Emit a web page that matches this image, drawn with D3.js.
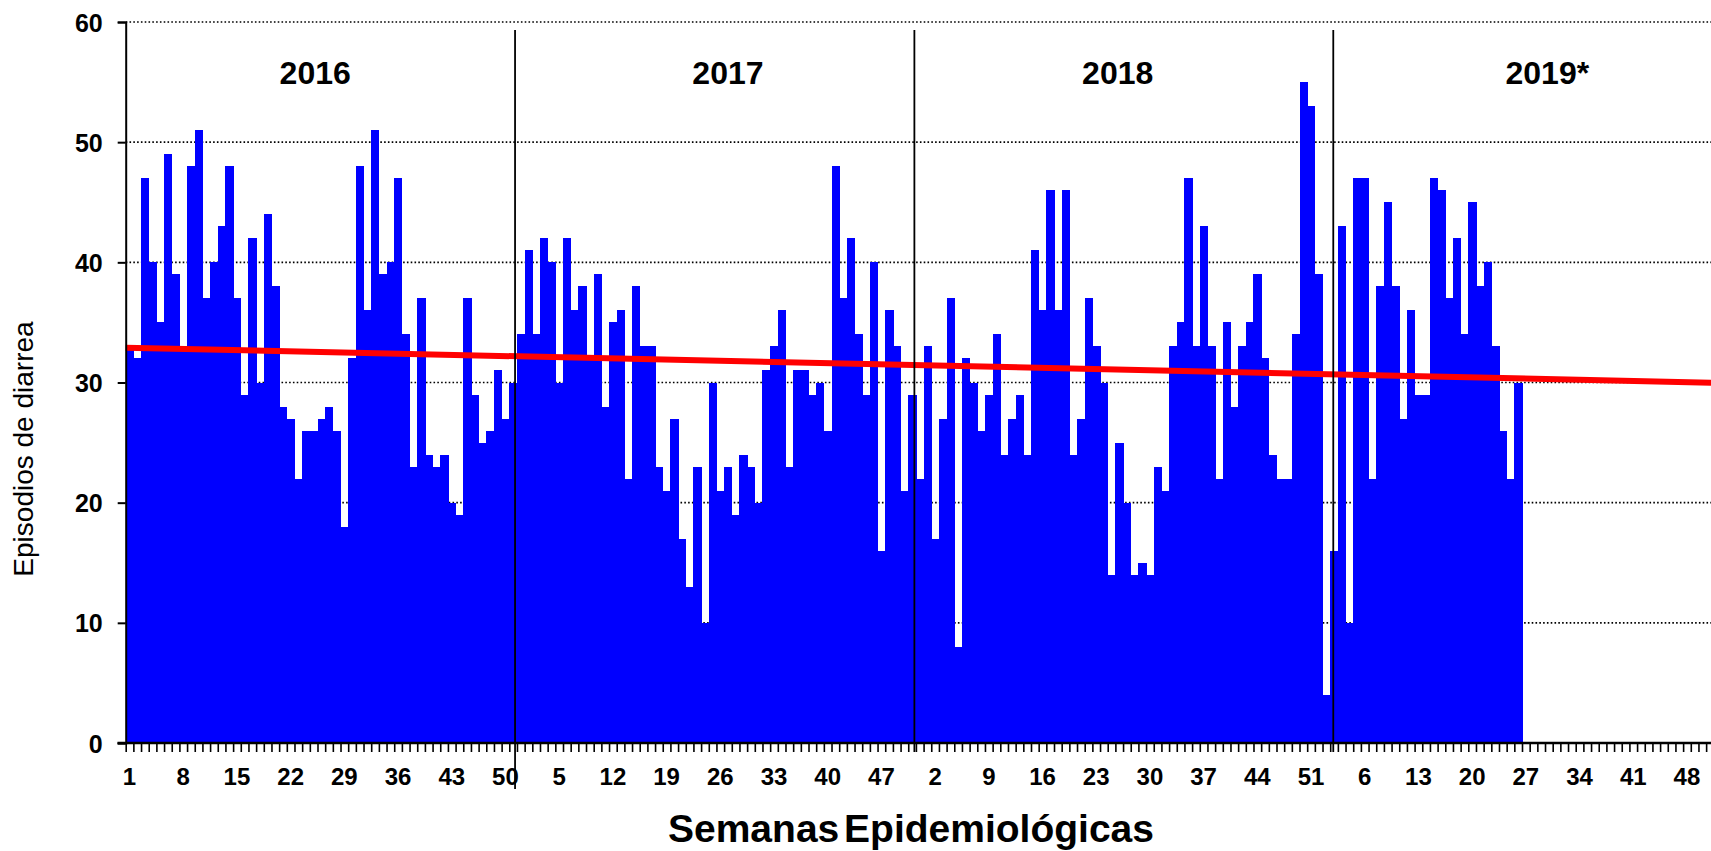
<!DOCTYPE html>
<html>
<head>
<meta charset="utf-8">
<script src="https://cdn.jsdelivr.net/npm/d3@7"></script>
<style>
  body { margin: 0; background: white; }
  svg { display: block; font-family: "Liberation Sans", Arial, sans-serif; }
</style>
</head>
<body>
<div id="chart"></div>
<script>
// weekly diarrhoea episodes
const cases2016 = [33, 32, 47, 40, 35, 49, 39, 33, 48, 51, 37, 40, 43, 48, 37, 29, 42, 30, 44, 38,
                   28, 27, 22, 26, 26, 27, 28, 26, 18, 32, 48, 36, 51, 39, 40, 47, 34, 23, 37, 24,
                   23, 24, 20, 19, 37, 29, 25, 26, 31, 27, 30, 34]
const cases2017 = [41, 34, 42, 40, 30, 42, 36, 38, 32, 39, 28, 35, 36, 22, 38, 33, 33, 23, 21, 27,
                   17, 13, 23, 10, 30, 21, 23, 19, 24, 23, 20, 31, 33, 36, 23, 31, 31, 29, 30, 26,
                   48, 37, 42, 34, 29, 40, 16, 36, 33, 21, 29, 22]
const cases2018 = [33, 17, 27, 37, 8, 32, 30, 26, 29, 34, 24, 27, 29, 24, 41, 36, 46, 36, 46, 24,
                   27, 37, 33, 30, 14, 25, 20, 14, 15, 14, 23, 21, 33, 35, 47, 33, 43, 33, 22, 35,
                   28, 33, 35, 39, 32, 24, 22, 22, 34, 55, 53, 39]
const cases2019 = [4, 16, 43, 10, 47, 47, 22, 38, 45, 38, 27, 36, 29, 29, 47, 46, 37, 42, 34, 45,
                   38, 40, 33, 26, 22, 30]

const years = ["2016", "2017", "2018", "2019*"]
const yearLabelWeek = [24.7, 78.5, 129.3, 185.3]   // label centre, in weeks from start
const yearDividers = [50.75, 102.8, 157.4]          // vertical separators, in weeks
const totalWeeks = 208

const xTickLabels = ["1", "8", "15", "22", "29", "36", "43", "50", "5", "12", "19", "26", "33", "40", "47",
                     "2", "9", "16", "23", "30", "37", "44", "51", "6", "13", "20", "27", "34", "41", "48"]
const yTicks = [0, 10, 20, 30, 40, 50, 60]

// linear trend as drawn (start / end of the 4-year span)
const trendWeeks = [0, 208]
const trendValues = [32.9, 29.97]

const data = cases2016.concat(cases2017, cases2018, cases2019)

let width = 1711, height = 851
let plotLeft = 125.7, weekW = 7.672
let plotRight = plotLeft + totalWeeks * weekW

let svg = d3.select("#chart").append("svg")
    .attr("width", width)
    .attr("height", height)

let xLin = d3.scaleLinear().domain([0, totalWeeks]).range([plotLeft, plotRight])
let xBand = d3.scaleBand().domain(d3.range(totalWeeks)).range([plotLeft, plotRight]).padding(0)
let y = d3.scaleLinear().domain([0, 60]).range([743, 22])

// dotted gridlines
svg.append("g")
    .selectAll("line")
    .data(yTicks.filter(d => d > 0))
    .enter()
    .append("line")
        .attr("x1", plotLeft)
        .attr("x2", width)
        .attr("y1", d => y(d))
        .attr("y2", d => y(d))
        .style("stroke", "black")
        .style("stroke-width", 1.6)
        .style("stroke-dasharray", "1.6,2.2")

// bars
svg.append("g")
    .selectAll("rect")
    .data(data)
    .enter()
    .append("rect")
        .attr("x", (d, i) => xBand(i))
        .attr("y", d => y(d))
        .attr("width", xBand.bandwidth() + 0.6)
        .attr("height", d => y(0) - y(d))
        .style("fill", "#0000FF")
        .attr("shape-rendering", "crispEdges")

// trend line
svg.append("line")
    .attr("x1", xLin(trendWeeks[0]))
    .attr("x2", xLin(trendWeeks[1]))
    .attr("y1", y(trendValues[0]))
    .attr("y2", y(trendValues[1]))
    .style("stroke", "#FF0000")
    .style("stroke-width", 6)

// year separators
svg.append("g")
    .selectAll("line")
    .data(yearDividers)
    .enter()
    .append("line")
        .attr("x1", d => xLin(d))
        .attr("x2", d => xLin(d))
        .attr("y1", 30)
        .attr("y2", (d, i) => i == 0 ? 789 : 752)
        .style("stroke", "black")
        .style("stroke-width", 1.8)

// year labels
svg.append("g")
    .selectAll("text")
    .data(years)
    .enter()
    .append("text")
        .attr("x", (d, i) => xLin(yearLabelWeek[i]))
        .attr("y", 84)
        .attr("text-anchor", "middle")
        .style("font-size", "32px")
        .style("font-weight", "bold")
        .text(d => d)

// x axis: a tick for every week, labels every 7 weeks
let xAxis = svg.append("g")
    .attr("transform", "translate(0," + y(0) + ")")
    .call(d3.axisBottom(xLin).tickValues(d3.range(0, totalWeeks + 1)).tickSize(9).tickFormat(""))
xAxis.select(".domain").remove()
xAxis.selectAll(".tick line").style("stroke", "black").style("stroke-width", 1.6)

svg.append("line")
    .attr("x1", 117.5).attr("x2", width)
    .attr("y1", y(0)).attr("y2", y(0))
    .style("stroke", "black").style("stroke-width", 2.5)

let labelAxis = svg.append("g")
    .attr("transform", "translate(0," + y(0) + ")")
    .call(d3.axisBottom(xBand)
        .tickValues(xTickLabels.map((d, k) => k * 7))
        .tickSize(0)
        .tickFormat((d, k) => xTickLabels[k]))
labelAxis.select(".domain").remove()
labelAxis.selectAll("text")
    .attr("y", 42)
    .attr("dy", 0)
    .style("font-family", "'Liberation Sans', Arial, sans-serif")
    .style("font-size", "24px")
    .style("font-weight", "bold")
    .style("fill", "black")

// y axis
let yAxis = svg.append("g")
    .attr("transform", "translate(" + plotLeft + ",0)")
    .call(d3.axisLeft(y).tickValues(yTicks).tickSize(8).tickFormat(d3.format("d")))
yAxis.select(".domain").style("stroke", "black").style("stroke-width", 2)
yAxis.selectAll(".tick line").style("stroke", "black").style("stroke-width", 2)
yAxis.selectAll("text")
    .attr("x", -23)
    .attr("dy", "0.36em")
    .style("font-family", "'Liberation Sans', Arial, sans-serif")
    .style("font-size", "25px")
    .style("font-weight", "bold")
    .style("fill", "black")

// axis titles
svg.append("text")
    .attr("x", 911)
    .attr("y", 842)
    .attr("text-anchor", "middle")
    .style("font-size", "39px")
    .style("font-weight", "bold")
    .style("word-spacing", "-6px")
    .text("Semanas Epidemiológicas")

svg.append("text")
    .attr("transform", "translate(33,449) rotate(-90)")
    .attr("text-anchor", "middle")
    .style("font-size", "28px")
    .text("Episodios de diarrea")
</script>
</body>
</html>
